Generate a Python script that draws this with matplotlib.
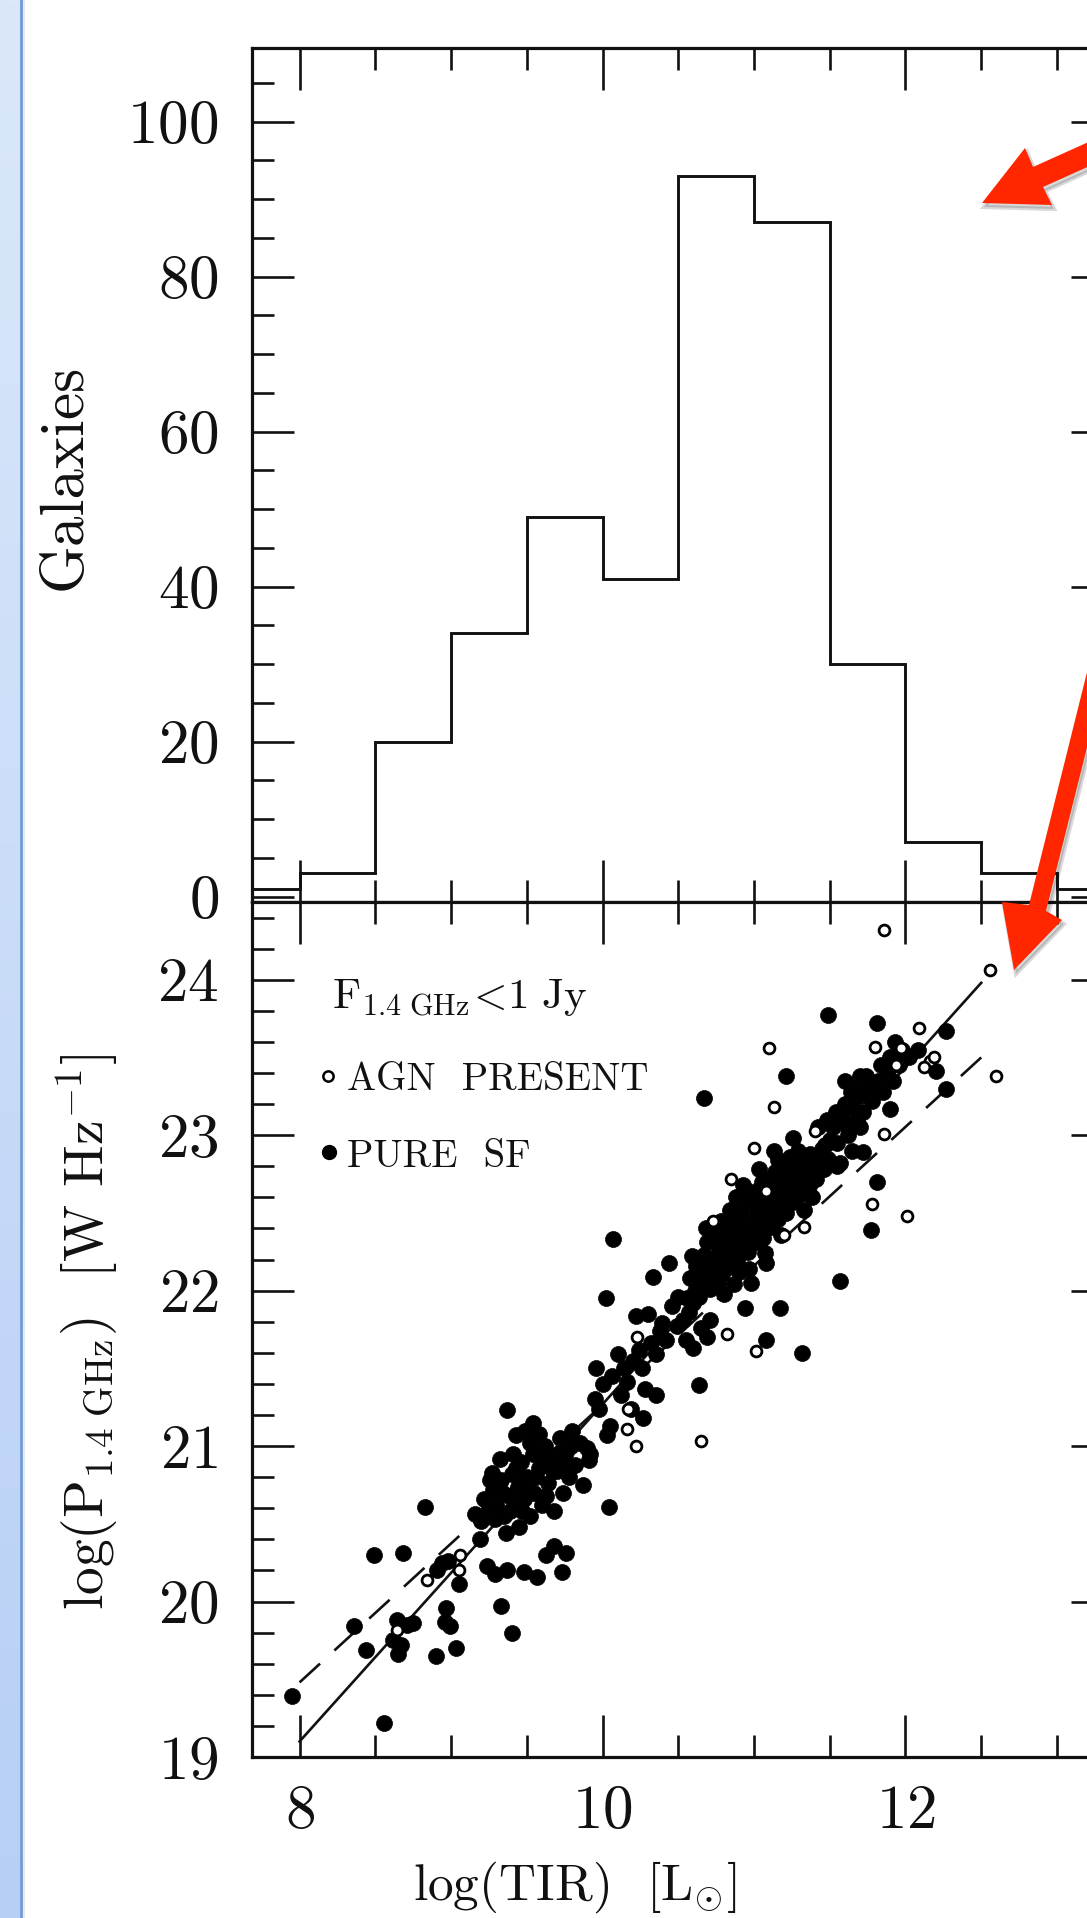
"""
Galaxy TIR histogram + radio/TIR correlation (two stacked panels), slide crop with red arrows.
"""
import matplotlib
matplotlib.use('Agg')
import matplotlib.pyplot as plt
import matplotlib.ticker as mticker
from matplotlib.patches import Polygon
import numpy as np

plt.rcParams['font.family'] = 'cmr10'
plt.rcParams['mathtext.fontset'] = 'cm'
plt.rcParams['axes.formatter.use_mathtext'] = True
plt.rcParams['lines.scale_dashes'] = False

# ── Data ───────────────────────────────────────────────────────────────────────
bin_edges = [7.5, 8.0, 8.5, 9.0, 9.5, 10.0, 10.5, 11.0, 11.5, 12.0, 12.5, 13.0, 13.5]
galaxy_counts = [1, 3, 20, 34, 49, 41, 93, 87, 30, 7, 3, 1]

# log(TIR), log(P_1.4GHz) for pure star-forming galaxies
sf_points = [
    # sparse / outliers, low end
    (7.95, 19.39), (8.56, 19.22), (8.36, 19.84), (8.44, 19.69), (8.49, 20.30), (8.68, 20.31),
    (8.83, 20.61), (8.64, 19.88), (8.71, 19.85), (8.62, 19.75), (8.67, 19.72), (8.75, 19.86),
    (8.65, 19.66), (8.90, 19.65), (9.03, 19.70), (8.97, 19.96), (8.96, 19.87), (8.99, 19.84),
    (8.94, 20.25), (8.98, 20.26), (8.91, 20.20), (9.05, 20.11), (9.19, 20.40), (9.24, 20.23),
    (9.29, 20.18), (9.37, 20.20), (9.48, 20.19), (9.57, 20.16), (9.63, 20.30), (9.68, 20.36),
    (9.76, 20.31), (9.73, 20.19), (9.33, 19.97), (9.40, 19.80), (9.36, 20.44), (10.04, 20.61),
    (9.27, 20.83), (9.43, 21.07), (9.54, 21.15), (9.37, 21.23), (9.92, 20.95), (9.90, 20.99),
    (10.27, 21.18), (10.03, 21.07), (9.91, 20.91),
    # band 9.15 - 9.9
    (9.16, 20.56), (9.20, 20.52), (9.22, 20.66), (9.25, 20.60), (9.28, 20.72), (9.30, 20.62),
    (9.33, 20.78), (9.35, 20.55), (9.38, 20.68), (9.40, 20.82), (9.42, 20.60), (9.44, 20.74),
    (9.46, 20.90), (9.48, 20.66), (9.50, 20.80), (9.52, 20.55), (9.54, 20.95), (9.55, 20.70),
    (9.58, 20.86), (9.60, 20.62), (9.62, 21.00), (9.64, 20.76), (9.66, 20.92), (9.68, 20.58),
    (9.70, 20.84), (9.72, 21.05), (9.74, 20.70), (9.76, 20.96), (9.78, 20.80), (9.80, 21.10),
    (9.82, 20.88), (9.85, 21.02), (9.87, 20.75), (9.32, 20.92), (9.45, 20.48), (9.58, 21.08),
    (9.26, 20.78), (9.52, 21.02), (9.34, 20.70), (9.39, 20.58), (9.43, 20.86), (9.47, 20.58),
    (9.51, 20.72), (9.56, 20.80), (9.59, 20.93), (9.63, 20.68), (9.67, 20.84), (9.71, 20.95),
    (9.75, 20.88), (9.79, 21.00), (9.29, 20.53), (9.41, 20.95), (9.49, 21.10),
    # band 9.9 - 10.7
    (9.95, 21.30), (9.98, 21.24), (10.00, 21.40), (10.05, 21.13), (10.06, 21.45), (10.10, 21.59),
    (10.12, 21.33), (10.14, 21.50), (10.16, 21.41), (10.19, 21.24), (10.20, 21.55), (10.22, 21.84),
    (10.24, 21.62), (10.26, 21.50), (10.28, 21.37), (10.30, 21.85), (10.32, 21.66), (10.33, 22.09),
    (10.35, 21.59), (10.38, 21.74), (10.39, 21.79), (10.42, 21.68), (10.44, 22.18), (10.46, 21.90),
    (10.49, 21.77), (10.50, 21.96), (10.53, 21.81), (10.55, 21.68), (10.02, 21.95), (10.07, 22.33),
    (9.96, 21.50), (10.35, 21.33), (10.64, 21.39), (10.60, 21.63), (10.65, 21.76), (10.69, 21.70),
    (10.71, 21.81),
    # dense band 10.55 - 11.5
    (10.56, 21.95), (10.58, 22.08), (10.57, 21.86), (10.61, 22.00), (10.62, 22.16), (10.60, 21.92),
    (10.66, 22.04), (10.64, 21.96), (10.67, 22.23), (10.70, 22.10), (10.71, 22.01), (10.69, 22.31),
    (10.74, 22.16), (10.76, 22.05), (10.73, 22.36), (10.77, 22.26), (10.80, 22.22), (10.79, 22.11),
    (10.82, 22.40), (10.81, 22.30), (10.85, 22.27), (10.86, 22.15), (10.84, 22.46), (10.87, 22.04),
    (10.90, 22.31), (10.89, 22.20), (10.91, 22.50), (10.92, 22.40), (10.95, 22.37), (10.96, 22.25),
    (10.94, 22.56), (10.97, 22.14), (11.00, 22.43), (11.01, 22.31), (10.99, 22.61), (11.02, 22.51),
    (11.05, 22.45), (11.06, 22.34), (11.04, 22.66), (11.07, 22.24), (11.10, 22.52), (11.11, 22.41),
    (11.09, 22.71), (11.12, 22.61), (11.15, 22.58), (11.16, 22.46), (11.14, 22.76), (11.20, 22.63),
    (11.21, 22.50), (11.19, 22.81), (11.25, 22.68), (11.26, 22.57), (11.24, 22.86), (11.30, 22.73),
    (11.31, 22.62), (11.29, 22.90), (11.35, 22.79), (11.36, 22.67), (11.40, 22.85), (11.41, 22.72),
    (11.45, 22.91), (11.46, 22.78), (11.50, 22.97), (11.49, 22.85), (10.88, 22.60), (10.93, 22.68),
    (11.03, 22.78), (11.13, 22.90), (11.08, 22.18), (11.18, 22.36), (10.78, 22.45), (10.68, 22.40),
    (11.33, 22.52), (11.38, 22.60), (10.98, 22.05), (10.59, 22.22), (10.63, 22.08), (10.72, 22.20),
    (10.75, 22.32), (10.83, 22.18), (10.86, 22.38), (10.91, 22.26), (10.93, 22.47), (10.97, 22.32),
    (11.00, 22.55), (11.03, 22.40), (11.06, 22.58), (11.09, 22.47), (11.12, 22.68), (11.14, 22.53),
    (11.17, 22.72), (11.19, 22.58), (11.22, 22.77), (11.23, 22.64), (11.27, 22.80), (11.28, 22.70),
    (11.32, 22.84), (11.34, 22.74), (11.37, 22.88), (11.39, 22.80), (11.43, 22.86), (11.47, 22.94),
    (10.80, 21.98), (10.84, 22.52), (10.96, 22.64), (11.05, 22.70), (11.16, 22.84), (10.66, 22.14),
    (10.78, 22.38), (10.90, 22.12),
    # band 11.5 - 12.1
    (11.52, 23.05), (11.55, 22.95), (11.58, 23.12), (11.62, 23.05), (11.65, 23.18), (11.68, 23.10),
    (11.70, 23.25), (11.72, 23.15), (11.75, 23.30), (11.78, 23.22), (11.82, 23.35), (11.85, 23.28),
    (11.88, 23.40), (11.92, 23.35), (11.96, 23.45), (12.02, 23.50), (12.08, 23.55), (11.60, 23.35),
    (11.64, 23.28), (11.48, 23.10), (11.42, 23.05), (11.55, 22.80), (11.65, 22.90), (11.54, 23.15),
    (11.60, 23.20), (11.67, 23.30), (11.74, 23.38), (11.79, 23.32), (11.84, 23.45), (11.90, 23.50),
    (11.98, 23.55), (11.70, 23.05), (11.62, 23.00),
    # upper outliers
    (11.49, 23.77), (11.81, 23.72), (11.93, 23.60), (12.27, 23.67), (12.20, 23.41), (12.27, 23.30),
    (11.21, 23.38), (10.67, 23.24), (11.90, 23.17), (11.70, 23.38), (11.80, 23.29), (11.26, 22.98),
    (11.72, 22.89), (11.57, 22.82), (11.81, 22.70), (11.77, 22.39), (11.57, 22.06), (10.94, 21.89),
    (11.17, 21.89), (11.08, 21.68), (11.32, 21.60),
]

# galaxies with an AGN present
agn_points = [
    (11.86, 24.32), (12.56, 24.06), (11.10, 23.56), (11.80, 23.57), (12.09, 23.69), (11.97, 23.56),
    (12.16, 23.48), (12.12, 23.44), (12.19, 23.50), (12.60, 23.38), (11.13, 23.18), (11.00, 22.92),
    (10.85, 22.72), (11.40, 23.03), (11.86, 23.01), (11.78, 22.56), (12.01, 22.48), (11.33, 22.41),
    (10.73, 22.45), (11.20, 22.36), (11.08, 22.64), (10.82, 21.72), (11.01, 21.61), (10.23, 21.70),
    (10.16, 21.11), (10.22, 21.00), (10.65, 21.03), (10.17, 21.24), (9.05, 20.20), (9.06, 20.30),
    (8.84, 20.14), (8.64, 19.82), (11.94, 23.45),
]

fit_x = [8.0, 12.5]
fit_solid_y = [19.10, 23.98]
fit_dashed_y = [19.48, 23.50]

sf = np.array(sf_points)
agn = np.array(agn_points)

# ── Layout (pixel geometry of the 1087 x 1918 crop) ───────────────────────────
W, H = 1087, 1918
fig = plt.figure(figsize=(W / 100, H / 100), dpi=100)
fig.patch.set_facecolor('white')

left, right = 252, 1113
ax_top = fig.add_axes([left / W, 1 - 902 / H, (right - left) / W, (902 - 48) / H])
ax_bot = fig.add_axes([left / W, 1 - 1757 / H, (right - left) / W, (1757 - 902) / H])

XLIM = (7.686, 13.37)
INK = '#111111'

for ax in (ax_top, ax_bot):
    ax.set_xlim(*XLIM)
    ax.xaxis.set_major_locator(mticker.MultipleLocator(2))
    ax.xaxis.set_minor_locator(mticker.MultipleLocator(0.5))
    ax.tick_params(which='both', direction='in', top=True, right=True,
                   width=1.9, color=INK, labelsize=44, labelcolor=INK)
    ax.tick_params(which='major', length=30)
    ax.tick_params(which='minor', length=15.5)
    ax.tick_params(axis='y', pad=24)
    ax.tick_params(axis='x', pad=20)
    for sp in ax.spines.values():
        sp.set_linewidth(2.3)
        sp.set_color(INK)

# ── Upper panel: histogram ────────────────────────────────────────────────────
ax_top.stairs(galaxy_counts, bin_edges, baseline=None, color=INK, linewidth=2.1)
ax_top.set_ylim(-0.7, 109.5)
ax_top.yaxis.set_major_locator(mticker.MultipleLocator(20))
ax_top.yaxis.set_minor_locator(mticker.MultipleLocator(5))
ax_top.tick_params(axis='x', labelbottom=False)

# ── Lower panel: radio vs TIR ─────────────────────────────────────────────────
ax_bot.plot(fit_x, fit_solid_y, color=INK, lw=1.9, zorder=2)
ax_bot.plot(fit_x, fit_dashed_y, color=INK, lw=1.9, dashes=(20, 14), zorder=2)
ax_bot.plot(sf[:, 0], sf[:, 1], 'o', ms=11.5, mfc='black', mec='black', mew=0.5,
            ls='none', zorder=3)
ax_bot.plot(agn[:, 0], agn[:, 1], 'o', ms=7.8, mfc='white', mec='black', mew=2.0,
            ls='none', zorder=4)
ax_bot.set_ylim(19, 24.5)
ax_bot.yaxis.set_major_locator(mticker.MultipleLocator(1))
ax_bot.yaxis.set_minor_locator(mticker.MultipleLocator(0.2))

# in-panel key
ax_bot.text(0.0926, 0.876, r'$\mathrm{F_{1.4\ GHz}\!<\!1\ Jy}$', transform=ax_bot.transAxes,
            fontsize=31, va='baseline', ha='left', color=INK)
ax_bot.plot([0.0886], [0.7968], 'o', ms=7.4, mfc='white', mec='black', mew=1.8,
            transform=ax_bot.transAxes, clip_on=False)
ax_bot.text(0.1103, 0.7801, 'AGN  PRESENT', transform=ax_bot.transAxes,
            fontsize=28, va='baseline', ha='left', color=INK)
ax_bot.plot([0.0894], [0.708], 'o', ms=10, mfc='black', mec='black',
            transform=ax_bot.transAxes, clip_on=False)
ax_bot.text(0.1103, 0.6904, 'PURE  SF', transform=ax_bot.transAxes,
            fontsize=28, va='baseline', ha='left', color=INK)

# axis labels
fig.text(65 / W, 1 - 477 / H, 'Galaxies', rotation=90, ha='center', va='center',
         fontsize=44, color=INK)
fig.text(88 / W, 1 - 1332 / H, r'log(P$_{\rm 1.4\ GHz}$)  [W Hz$^{-1}$]', rotation=90,
         ha='center', va='center', fontsize=40, color=INK)
fig.text(575 / W, 1 - 1900 / H, r'log(TIR)  [L$_{\odot}$]', ha='center', va='baseline',
         fontsize=37, color=INK)

# ── Slide decorations: blue side bar and red arrows (pixel coordinates) ────────
over = fig.add_axes([0, 0, 1, 1], zorder=10)
over.patch.set_alpha(0)
top_c = np.array([219, 232, 250]) / 255
bot_c = np.array([183, 207, 246]) / 255
t = np.linspace(0, 1, 256)[:, None, None]
grad = top_c * (1 - t) + bot_c * t
over.imshow(grad, extent=(0, 19.5, H, 0), aspect='auto', interpolation='bilinear')
over.plot([21, 21], [0, H], color='#6b9bd1', lw=2.0)
over.plot([23.5, 23.5], [0, H], color='#e6e9ee', lw=1.5)

arrow1 = [(982, 203), (1025, 148), (1033, 167), (1113, 131), (1123, 151), (1043, 187), (1052, 205)]
arrow2 = [(1014, 970), (1002, 902), (1029, 905), (1105, 600), (1124, 600), (1046, 911), (1062, 920)]
for pts in (arrow1, arrow2):
    shadow = [(x + 2, y + 4) for x, y in pts]
    over.add_patch(Polygon(shadow, closed=True, facecolor='black', edgecolor='black',
                           alpha=0.15, lw=3))
    over.add_patch(Polygon(pts, closed=True, facecolor='#ff2600', edgecolor='none'))

over.set_xlim(0, W)
over.set_ylim(H, 0)
over.axis('off')

fig.savefig('out.png', dpi=100, facecolor='white')
plt.close(fig)
